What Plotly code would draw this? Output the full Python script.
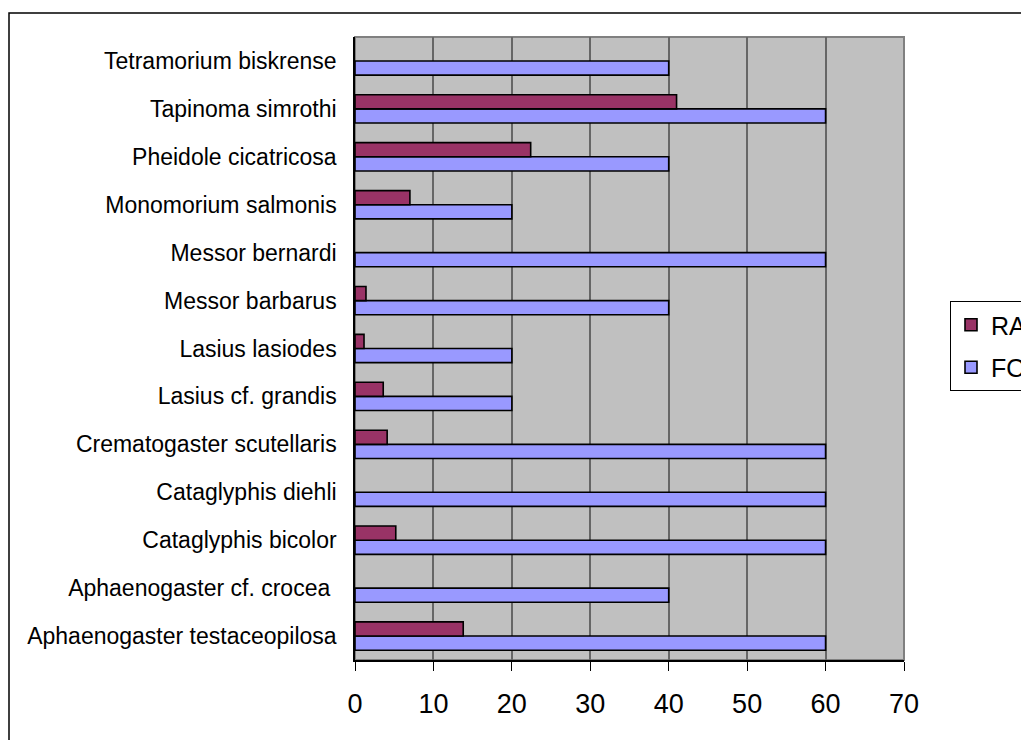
import plotly.graph_objects as go

species = [
    "Aphaenogaster testaceopilosa",
    "Aphaenogaster cf. crocea\u00a0",
    "Cataglyphis bicolor",
    "Cataglyphis diehli",
    "Crematogaster scutellaris",
    "Lasius cf. grandis",
    "Lasius lasiodes",
    "Messor barbarus",
    "Messor bernardi",
    "Monomorium salmonis",
    "Pheidole cicatricosa",
    "Tapinoma simrothi",
    "Tetramorium biskrense",
]
fo_values = [60, 40, 60, 60, 60, 20, 20, 40, 60, 20, 40, 60, 40]
ra_values = [13.8, None, 5.2, None, 4.1, 3.6, 1.15, 1.4, None, 7.0, 22.4, 41.0, None]
x_ticks = [0, 10, 20, 30, 40, 50, 60, 70]

W, H = 1029, 740
# page body adds an 8px offset; positions below are in figure pixels
L, T = 347, 29
R = W - 896
B = H - 652
pw, ph = W - L - R, H - T - B

fig = go.Figure()
fig.add_trace(go.Bar(
    y=species, x=fo_values, name="FO", orientation="h",
    legendgroup="fo", legendrank=2,
    marker=dict(color="#9999FF", line=dict(color="black", width=1.6)),
))
fig.add_trace(go.Bar(
    y=species, x=ra_values, name="RA", orientation="h",
    legendgroup="ra", legendrank=1,
    marker=dict(color="#993366", line=dict(color="black", width=1.6)),
))

font_family = "Liberation Sans, Arial, sans-serif"

fig.update_layout(
    width=W, height=H,
    margin=dict(l=L, r=R, t=T, b=B, autoexpand=False),
    paper_bgcolor="white",
    plot_bgcolor="#C0C0C0",
    barmode="group",
    bargap=0.41,
    bargroupgap=0,
    font=dict(family=font_family, color="black"),
    showlegend=True,
    legend=dict(
        x=(942 - L) / pw, xanchor="left",
        y=(H - B - 293) / ph, yanchor="top",
        traceorder="grouped",
        tracegroupgap=7,
        bgcolor="white",
        bordercolor="black", borderwidth=1,
        font=dict(size=25, family=font_family),
        itemclick=False,
    ),
    xaxis=dict(
        range=[0, 70], tickvals=x_ticks, ticktext=[str(v) for v in x_ticks],
        showgrid=True, gridcolor="#666666", gridwidth=1.5,
        showline=True, linecolor="black", linewidth=1.5,
        ticks="outside", ticklen=9, tickcolor="black", tickwidth=1,
        tickfont=dict(size=27, family=font_family),
        ticklabelstandoff=10,
        zeroline=False, fixedrange=True,
    ),
    yaxis=dict(
        categoryorder="array", categoryarray=species,
        showline=True, linecolor="black", linewidth=1.5,
        ticks="", tickfont=dict(size=23, family=font_family),
        ticklabelstandoff=12,
        showgrid=False, fixedrange=True,
    ),
    shapes=[
        # plot area border (grey)
        dict(type="rect", xref="paper", yref="paper", x0=0, x1=1, y0=0, y1=1,
             line=dict(color="#808080", width=2), layer="below"),
        # outer chart frame
        dict(type="rect", xref="paper", yref="paper",
             x0=(1 - L) / pw, x1=(1040 - L) / pw,
             y0=(H - B - 760) / ph, y1=(H - B - 5) / ph,
             line=dict(color="black", width=1.5), fillcolor="rgba(0,0,0,0)"),
    ],
)

fig.write_html("out.html")
